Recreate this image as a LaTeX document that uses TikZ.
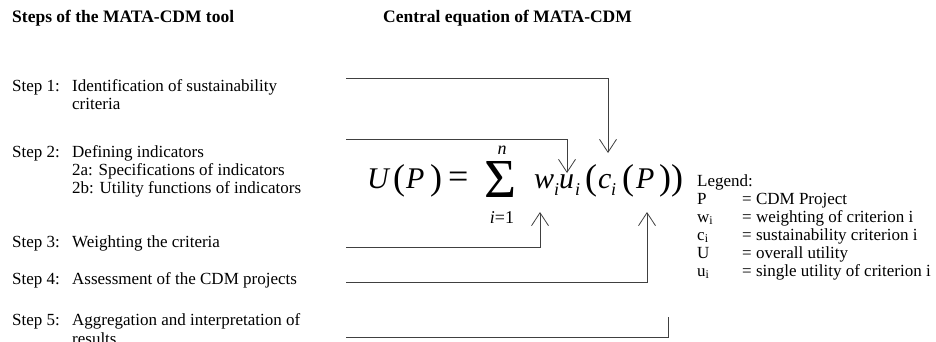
\documentclass[tikz,border=0pt]{standalone}
\usepackage{fontspec}
\setmainfont{Liberation Serif}
\usetikzlibrary{arrows.meta}
\begin{document}
\begin{tikzpicture}[x=1pt,y=-1pt,
  txt/.style={anchor=base west,inner sep=0pt,font=\fontsize{17}{18}\selectfont},
  hd/.style={anchor=base west,inner sep=0pt,font=\fontsize{17.5}{18}\selectfont\bfseries},
  eq/.style={anchor=base west,inner sep=0pt,font=\fontsize{30}{30}\selectfont\itshape},
  paren/.style={anchor=base west,inner sep=0pt,font=\fontsize{36}{36}\selectfont},
  sub/.style={anchor=base west,inner sep=0pt,font=\fontsize{18}{18}\selectfont\itshape},
  conn/.style={draw=black!75,line width=0.8pt},
  arr/.style={conn,-{Straight Barb[length=13pt,width=17pt]}}]
\useasboundingbox (0,0) rectangle (936,342);
% headings
\node[hd] (h1) at (12,23) {Steps of the MATA-CDM tool};
\node[hd] (h2) at (383,23) {Central equation of MATA-CDM};
% steps
\node[txt] (st1) at (12,92) {Step 1:};
\node[txt] (d1) at (72,92) {Identification of sustainability};
\node[txt] (d1b) at (72,110) {criteria};
\node[txt] (st2) at (12,157) {Step 2:};
\node[txt] (d2) at (72,157) {Defining indicators};
\node[txt] (d2a) at (72,175) {2a: Specifications of indicators};
\node[txt] (d2b) at (72,193) {2b: Utility functions of indicators};
\node[txt] (st3) at (12,247) {Step 3:};
\node[txt] (d3) at (72,247) {Weighting the criteria};
\node[txt] (st4) at (12,284) {Step 4:};
\node[txt] (d4) at (72,284) {Assessment of the CDM projects};
\node[txt] (st5) at (12,325) {Step 5:};
\node[txt] (d5) at (72,325) {Aggregation and interpretation of};
\node[txt] (d5b) at (72,344) {results};
% equation
\node[eq] (U) at (367,188) {U};
\node[paren] (lp1) at (393,189) {(};
\node[eq] (P1) at (406,188) {P};
\node[paren] (rp1) at (430,189) {)};
\node[anchor=base west,inner sep=0pt,font=\fontsize{36}{36}\selectfont] (eqs) at (448,188) {=};
\node[anchor=base west,inner sep=0pt,font=\fontsize{55}{55}\selectfont] (sig) at (484,197) {Σ};
\node[anchor=base,inner sep=0pt,font=\fontsize{18}{18}\selectfont\itshape] (n) at (502,154) {n};
\node[anchor=base,inner sep=0pt,font=\fontsize{18}{18}\selectfont] (lim) at (502,223) {\textit{i}=1};
\node[eq] (w) at (534,188) {w};
\node[sub] (wi) at (554,195) {i};
\node[eq] (u) at (559,188) {u};
\node[sub] (ui) at (575,195) {i};
\node[paren] (lp2) at (585,189) {(};
\node[eq] (c) at (598,188) {c};
\node[sub] (ci) at (611,195) {i};
\node[paren] (lp3) at (622,189) {(};
\node[eq] (P2) at (636,188) {P};
\node[paren] (rp3) at (659,189) {)};
\node[paren] (rp2) at (671,189) {)};
% legend
\node[txt] (lg) at (697,186) {Legend:};
\node[txt] (lP) at (697,204) {P};
\node[txt] (lw) at (697,222) {w\textsubscript{i}};
\node[txt] (lc) at (697,240) {c\textsubscript{i}};
\node[txt] (lU) at (697,258) {U};
\node[txt] (lu) at (697,276) {u\textsubscript{i}};
\node[txt] (eP) at (742,204) {= CDM Project};
\node[txt] (ew) at (742,222) {= weighting of criterion i};
\node[txt] (ec) at (742,240) {= sustainability criterion i};
\node[txt] (eU) at (742,258) {= overall utility};
\node[txt] (eu) at (742,276) {= single utility of criterion i};
% connectors
\coordinate (s1) at (346,78);
\coordinate (t1) at (608,153);
\coordinate (s2) at (346,139);
\coordinate (t2) at (567,173);
\coordinate (s3) at (346,247);
\coordinate (t3) at (540,212);
\coordinate (s4) at (346,282);
\coordinate (t4) at (647,212);
\coordinate (s5) at (346,337);
\coordinate (e5) at (668,317);
\draw[arr] (s1) -| (t1);
\draw[arr] (s2) -| (t2);
\draw[arr] (s3) -| (t3);
\draw[arr] (s4) -| (t4);
\draw[conn] (s5) -| (e5);
\end{tikzpicture}
\end{document}
